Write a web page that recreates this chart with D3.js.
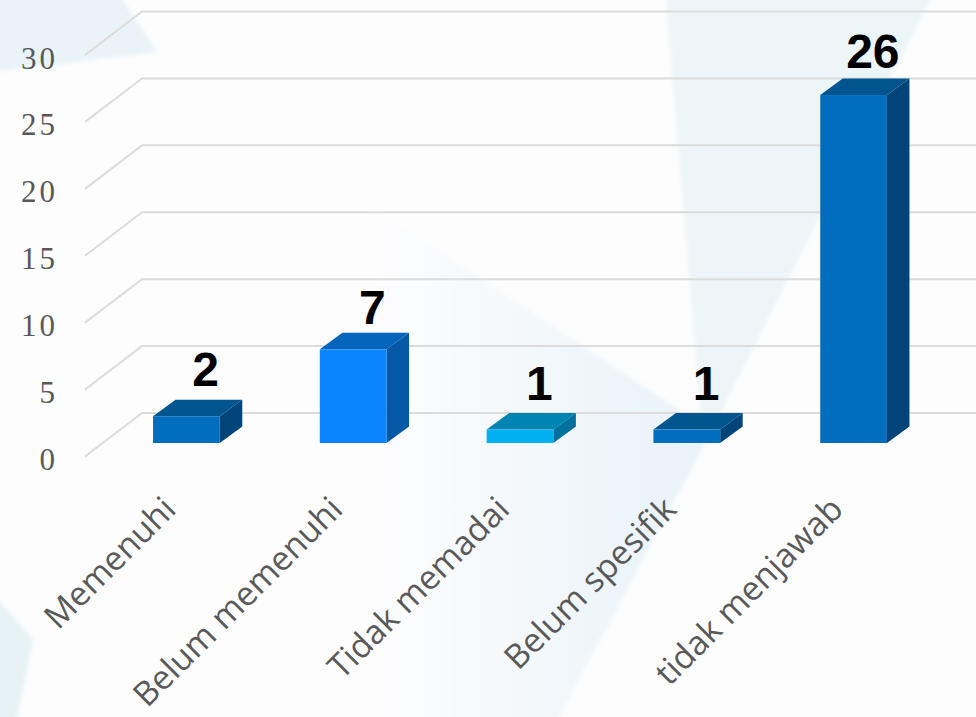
<!DOCTYPE html>
<html>
<head>
<meta charset="utf-8">
<script src="https://cdnjs.cloudflare.com/ajax/libs/d3/7.8.5/d3.min.js"></script>
<style>
html, body { margin: 0; padding: 0; background: #fdfdfe; overflow: hidden; }
svg { display: block; }
</style>
</head>
<body>
<svg id="chart" width="976" height="717"></svg>
<script>
var categories = ["Memenuhi", "Belum memenuhi", "Tidak memadai", "Belum spesifik", "tidak menjawab"];
var values = [2, 7, 1, 1, 26];
var tickValues = [0, 5, 10, 15, 20, 25, 30];
// front, top and side colours of each bar
var frontColors = ["#006dbd", "#0a85ff", "#00b0f0", "#006dbd", "#006dbd"];
var topColors = ["#00558f", "#0565bd", "#0085b3", "#00558f", "#00558f"];
var sideColors = ["#00447a", "#0558a6", "#00709c", "#00447a", "#00447a"];
// gap between bar top and its value label
var labelGaps = [13.5, 8.5, 13, 13, 10.5];

var svg = d3.select("#chart"),
    width = +svg.attr("width"),
    height = +svg.attr("height");

var x = d3.scaleBand()
    .domain(categories)
    .range([85, 919])
    .paddingInner(0.6)
    .paddingOuter(0.3);

var y = d3.scaleLinear()
    .domain([0, 30])
    .range([456.5, 55]);

// 3d offsets
var wallX = 57, wallY = -43.5,
    insetX = 18, insetY = -13.5,
    depthX = 22.5, depthY = -16.5;

// background shapes
var defs = svg.append("defs");
var fade = defs.append("linearGradient")
    .attr("id", "fade")
    .attr("gradientUnits", "userSpaceOnUse")
    .attr("x1", 370).attr("y1", 0)
    .attr("x2", 690).attr("y2", 0);
fade.append("stop").attr("offset", 0).attr("stop-color", "#e9f3f9").attr("stop-opacity", 0);
fade.append("stop").attr("offset", 1).attr("stop-color", "#e9f3f9").attr("stop-opacity", 1);
defs.append("filter")
    .attr("id", "soft")
  .append("feGaussianBlur")
    .attr("stdDeviation", 2);

var shapes = [
  ["-10,-10 116,-10 157,52 -10,72", "#e9f3f8"],
  ["665,-10 935,-10 705,443 702,425", "#ecf5f8"],
  ["370,205 702,425 705,443 554,727 370,727", "url(#fade)"],
  ["-10,590 33,640 15,727 -10,727", "#e6f2f5"]
];
svg.append("g")
    .attr("filter", "url(#soft)")
  .selectAll("polygon")
  .data(shapes)
  .enter().append("polygon")
    .attr("points", function(d) { return d[0]; })
    .attr("fill", function(d) { return d[1]; });

// grid lines
svg.append("g")
  .selectAll("path")
  .data(tickValues)
  .enter().append("path")
    .attr("fill", "none")
    .attr("stroke", "#dcdcdc")
    .attr("stroke-width", 2)
    .attr("d", function(d) {
      var px = x.range()[0], py = y(d);
      return "M" + px + "," + py + "L" + (px + wallX) + "," + (py + wallY) + "L" + width + "," + (py + wallY);
    });

// y axis
var yAxis = svg.append("g")
    .attr("transform", "translate(58,0)")
    .call(d3.axisLeft(y).tickValues(tickValues).tickSize(0).tickPadding(0));
yAxis.select(".domain").remove();
yAxis.selectAll("text")
    .attr("dy", "0.42em")
    .attr("font-family", "'Liberation Serif', serif")
    .attr("font-size", 31)
    .attr("letter-spacing", 3)
    .attr("fill", "#595959");

// bars
var bars = svg.append("g")
  .selectAll("g")
  .data(values)
  .enter().append("g")
    .attr("transform", function(d, i) { return "translate(" + (x(categories[i]) + insetX) + "," + insetY + ")"; });

bars.append("path")
    .attr("fill", function(d, i) { return topColors[i]; })
    .attr("d", function(d) {
      var w = x.bandwidth(), t = y(d);
      return "M0," + t + "L" + depthX + "," + (t + depthY) + "H" + (w + depthX) + "L" + w + "," + t + "Z";
    });

bars.append("path")
    .attr("fill", function(d, i) { return sideColors[i]; })
    .attr("d", function(d) {
      var w = x.bandwidth(), t = y(d), b = y(0);
      return "M" + w + "," + t + "L" + (w + depthX) + "," + (t + depthY) + "V" + (b + depthY) + "L" + w + "," + b + "Z";
    });

bars.append("rect")
    .attr("y", function(d) { return y(d); })
    .attr("width", x.bandwidth())
    .attr("height", function(d) { return y(0) - y(d); })
    .attr("fill", function(d, i) { return frontColors[i]; });

// value labels
bars.append("text")
    .attr("x", x.bandwidth() / 2 + depthX / 2 + 8)
    .attr("y", function(d, i) { return y(d) + depthY - labelGaps[i]; })
    .attr("text-anchor", "middle")
    .attr("font-family", "'Liberation Sans', sans-serif")
    .attr("font-weight", "bold")
    .attr("font-size", 48)
    .attr("fill", "#000")
    .text(function(d) { return d; });

// category labels
svg.append("g")
  .selectAll("text")
  .data(categories)
  .enter().append("text")
    .attr("transform", function(d) { return "translate(" + (x(d) + x.bandwidth() / 2 + 1) + ",503)rotate(-45)"; })
    .attr("text-anchor", "end")
    .attr("dy", "0.35em")
    .attr("font-family", "'Open Sans', sans-serif")
    .attr("font-size", 33.5)
    .attr("fill", "#595959")
    .text(function(d) { return d; });
</script>
</body>
</html>
